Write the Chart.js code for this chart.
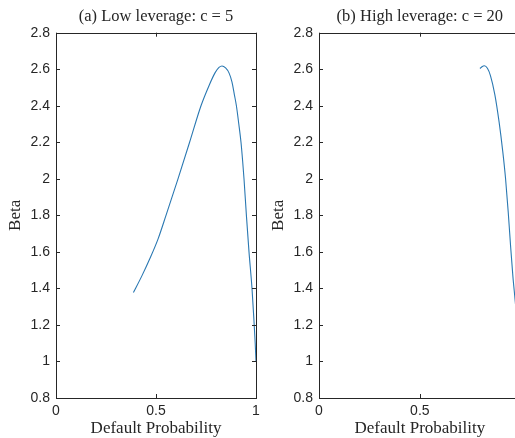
<!DOCTYPE html>
<html lang="en">
<head>
  <meta charset="UTF-8">
  <title>Beta vs Default Probability</title>
  <script src="https://cdn.jsdelivr.net/npm/chart.js"></script>
  <style>
    html, body {
      margin: 0;
      padding: 0;
      background: #ffffff;
      width: 515px;
      height: 438px;
      overflow: hidden;
    }
    .panel {
      position: absolute;
      top: 0;
      width: 270px;
      height: 438px;
    }
    #left { left: 0; }
    #right { left: 263px; }
  </style>
</head>
<body>
  <div class="panel" id="left"><canvas id="chartLow"></canvas></div>
  <div class="panel" id="right"><canvas id="chartHigh"></canvas></div>

  <script>
    // values
    const lowX  = [0.387, 0.43, 0.47, 0.51, 0.55, 0.61, 0.668, 0.725, 0.765, 0.795, 0.815, 0.83, 0.848, 0.865, 0.88, 0.892, 0.902, 0.914, 0.925, 0.933, 0.94, 0.952, 0.965, 0.98, 0.99, 0.996, 1.0];
    const lowY  = [1.377, 1.47, 1.565, 1.67, 1.80, 2.0, 2.2, 2.4, 2.51, 2.58, 2.61, 2.618, 2.607, 2.58, 2.53, 2.46, 2.4, 2.3, 2.2, 2.1, 2.0, 1.8, 1.6, 1.4, 1.22, 1.1, 1.0];
    const highX = [0.798, 0.808, 0.82, 0.835, 0.85, 0.872, 0.893, 0.911, 0.925, 0.938, 0.95, 0.961, 0.972, 0.986, 1.0];
    const highY = [2.604, 2.614, 2.619, 2.605, 2.565, 2.46, 2.31, 2.15, 2.0, 1.82, 1.63, 1.47, 1.34, 1.17, 1.0];

    const xTicks = [0, 0.5, 1];
    const yTicks = [0.8, 1, 1.2, 1.4, 1.6, 1.8, 2, 2.2, 2.4, 2.6, 2.8];

    const titles = ['(a) Low leverage: c = 5', '(b) High leverage: c = 20'];
    const xTitle = 'Default Probability';
    const yTitle = 'Beta';

    const axisColor = '#262626';
    const lineColor = '#2a78b2';
    const serif = "'Liberation Serif', 'DejaVu Serif', serif";
    const sans = "'Liberation Sans', Arial, sans-serif";

    // matlab style box with inward ticks
    const boxPlugin = {
      id: 'box',
      afterDraw(chart) {
        const { ctx, chartArea: a, scales } = chart;
        ctx.save();
        ctx.strokeStyle = axisColor;
        ctx.lineWidth = 1;
        ctx.strokeRect(Math.round(a.left) + 0.5, Math.round(a.top) + 0.5,
          Math.round(a.right - a.left), Math.round(a.bottom - a.top));
        const len = 4;
        ctx.beginPath();
        scales.x.ticks.forEach(t => {
          const px = Math.round(scales.x.getPixelForValue(t.value)) + 0.5;
          ctx.moveTo(px, a.bottom); ctx.lineTo(px, a.bottom - len);
          ctx.moveTo(px, a.top); ctx.lineTo(px, a.top + len);
        });
        scales.y.ticks.forEach(t => {
          const py = Math.round(scales.y.getPixelForValue(t.value)) + 0.5;
          ctx.moveTo(a.left, py); ctx.lineTo(a.left + len, py);
          ctx.moveTo(a.right, py); ctx.lineTo(a.right - len, py);
        });
        ctx.stroke();
        ctx.restore();
      }
    };

    function makeChart(id, xs, ys, title, padRight) {
      const points = xs.map((x, i) => ({ x: x, y: ys[i] }));
      return new Chart(document.getElementById(id), {
        type: 'scatter',
        data: {
          datasets: [{
            data: points,
            showLine: true,
            borderColor: lineColor,
            borderWidth: 1.1,
            pointRadius: 0,
            cubicInterpolationMode: 'monotone'
          }]
        },
        plugins: [boxPlugin],
        options: {
          responsive: true,
          maintainAspectRatio: false,
          animation: false,
          layout: { padding: { left: 0, right: padRight, top: 0, bottom: 0 } },
          plugins: {
            legend: { display: false },
            tooltip: { enabled: false },
            title: {
              display: true,
              text: title,
              fullSize: false,
              color: axisColor,
              font: { family: serif, size: 16.5, weight: 'normal', lineHeight: 1.2 },
              padding: { top: 7, bottom: 5.9 }
            }
          },
          scales: {
            x: {
              type: 'linear',
              min: 0,
              max: 1,
              afterBuildTicks: s => { s.ticks = xTicks.map(v => ({ value: v })); },
              afterFit: s => { s.height = 40; },
              grid: { display: false, drawTicks: false },
              border: { display: false },
              ticks: {
                color: axisColor,
                font: { family: sans, size: 14 },
                padding: 5,
                maxRotation: 0,
                callback: v => String(v)
              },
              title: {
                display: true,
                text: xTitle,
                color: axisColor,
                font: { family: serif, size: 17, lineHeight: 1.1 },
                padding: { top: 0, bottom: 0 }
              }
            },
            y: {
              type: 'linear',
              min: 0.8,
              max: 2.8,
              afterBuildTicks: s => { s.ticks = yTicks.map(v => ({ value: v })); },
              afterFit: s => { s.width = 56; },
              grid: { display: false, drawTicks: false },
              border: { display: false },
              ticks: {
                color: axisColor,
                font: { family: sans, size: 14 },
                padding: 6,
                callback: v => String(v)
              },
              title: {
                display: true,
                text: yTitle,
                color: axisColor,
                font: { family: serif, size: 17, lineHeight: 1.1 },
                padding: { top: 6, bottom: 0 }
              }
            }
          }
        }
      });
    }

    makeChart('chartLow', lowX, lowY, titles[0], 14);
    makeChart('chartHigh', highX, highY, titles[1], 12.3);
  </script>
</body>
</html>
